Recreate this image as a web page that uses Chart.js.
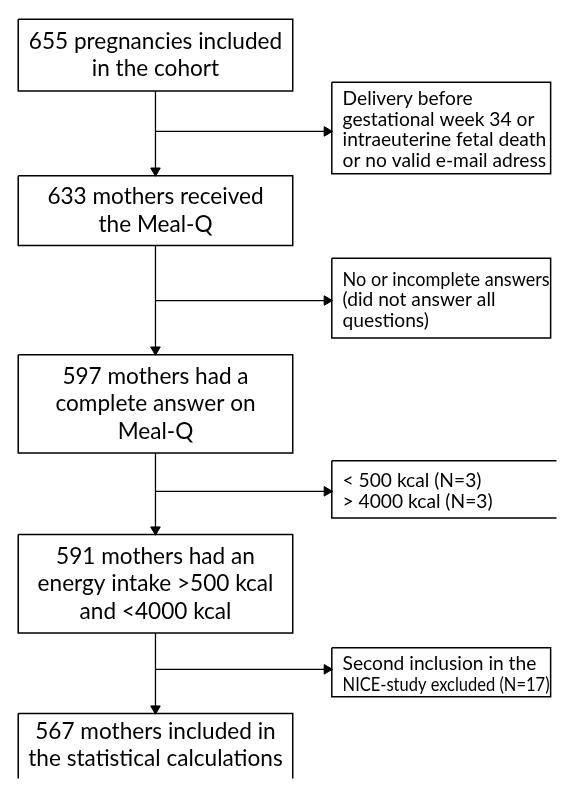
<!DOCTYPE html>
<html>
<head>
  <title>Meal-Q flow chart</title>
  <script src="https://cdn.jsdelivr.net/npm/chart.js"></script>
  <style>
    body { margin: 0; background: #fff; }
    canvas { display: block; }
  </style>
</head>
<body>
  <canvas id="flowChart" width="563" height="785"></canvas>
  <script>
    // texts of the main steps and of the exclusions
    const mainSteps = [
      ['655 pregnancies included', 'in the cohort'],
      ['633 mothers received', 'the Meal-Q'],
      ['597 mothers had a', 'complete answer on', 'Meal-Q'],
      ['591 mothers had an', 'energy intake >500 kcal', 'and <4000 kcal'],
      ['567 mothers included in', 'the statistical calculations']
    ];
    const exclusions = [
      ['Delivery before', 'gestational week 34 or', 'intraeuterine fetal death', 'or no valid e-mail adress'],
      ['No or incomplete answers', '(did not answer all', 'questions)'],
      ['< 500 kcal (N=3)', '> 4000 kcal (N=3)'],
      ['Second inclusion in the', 'NICE-study excluded (N=17)']
    ];

    // layout, in scale units (x 0..563, y 0..785 top down)
    const mainX = [12, 293];
    const mainY = [[13, 86], [172, 243], [354, 454], [537, 637], [719, 800]];
    const sideX = [[333, 557], [333, 557], [333, 575], [333, 557]];
    const sideY = [[77, 170], [256, 337], [462, 520], [652, 702]];
    const branchY = [127, 299, 493, 674];

    // one line of each kind with the width it takes in the picture, to size the font
    const mainFit = ['655 pregnancies included', 253];
    const sideFit = ['intraeuterine fetal death', 204];

    const ink = '#000';
    const arrowR = 5.5;
    const midX = (mainX[0] + mainX[1]) / 2;

    function rect(x0, x1, y0, y1) {
      return {
        data: [{x: x0, y: y0}, {x: x1, y: y0}, {x: x1, y: y1}, {x: x0, y: y1}, {x: x0, y: y0}],
        showLine: true, borderColor: ink, borderWidth: 1.5, borderJoinStyle: 'miter',
        pointRadius: 0, fill: false
      };
    }

    function arrow(p0, p1, rot) {
      return {
        data: [p0, p1],
        showLine: true, borderColor: ink, borderWidth: 1.3,
        pointRadius: [0, arrowR], pointStyle: 'triangle', rotation: rot,
        pointBackgroundColor: ink, pointBorderColor: ink, pointBorderWidth: 1,
        fill: false
      };
    }

    const datasets = [];
    mainY.forEach(y => datasets.push(rect(mainX[0], mainX[1], y[0], y[1])));
    sideY.forEach((y, i) => datasets.push(rect(sideX[i][0], sideX[i][1], y[0], y[1])));
    for (let i = 0; i < mainY.length - 1; i++) {
      datasets.push(arrow({x: midX, y: mainY[i][1]}, {x: midX, y: mainY[i + 1][0] - arrowR + 0.5}, 180));
      datasets.push(arrow({x: midX, y: branchY[i]}, {x: sideX[i][0] - arrowR + 0.5, y: branchY[i]}, 90));
    }

    function fitSize(ctx, family, s) {
      ctx.font = '100px ' + family;
      return 100 * s[1] / ctx.measureText(s[0]).width;
    }

    const textPlugin = {
      id: 'boxText',
      afterDatasetsDraw(chart) {
        const ctx = chart.ctx;
        const xs = chart.scales.x, ys = chart.scales.y;
        const family = 'Lato, "Open Sans", sans-serif';
        const bigSize = fitSize(ctx, family, mainFit);
        const smallSize = fitSize(ctx, family, sideFit);
        ctx.save();
        ctx.fillStyle = ink;
        ctx.textBaseline = 'middle';

        ctx.font = bigSize.toFixed(1) + 'px ' + family;
        ctx.textAlign = 'center';
        mainSteps.forEach((lines, i) => {
          const last = i === mainY.length - 1;
          const cy = last ? mainY[i][0] + 32 : (mainY[i][0] + mainY[i][1]) / 2;
          lines.forEach((t, j) => {
            const y = cy + (j - (lines.length - 1) / 2) * 28;
            ctx.fillText(t, xs.getPixelForValue(midX), ys.getPixelForValue(y), 266);
          });
        });

        ctx.font = smallSize.toFixed(1) + 'px ' + family;
        ctx.textAlign = 'left';
        exclusions.forEach((lines, i) => {
          const cy = (sideY[i][0] + sideY[i][1]) / 2 + 2;
          lines.forEach((t, j) => {
            const y = cy + (j - (lines.length - 1) / 2) * 21;
            ctx.fillText(t, xs.getPixelForValue(sideX[i][0] + 11), ys.getPixelForValue(y), 207);
          });
        });
        ctx.restore();
      }
    };

    new Chart(document.getElementById('flowChart').getContext('2d'), {
      type: 'scatter',
      data: { datasets: datasets },
      options: {
        responsive: false,
        animation: false,
        devicePixelRatio: 1,
        layout: { padding: 0 },
        plugins: { legend: { display: false }, tooltip: { enabled: false } },
        scales: {
          x: { type: 'linear', min: 0, max: 563, display: false },
          y: { type: 'linear', min: 0, max: 785, reverse: true, display: false }
        }
      },
      plugins: [textPlugin]
    });
  </script>
</body>
</html>
